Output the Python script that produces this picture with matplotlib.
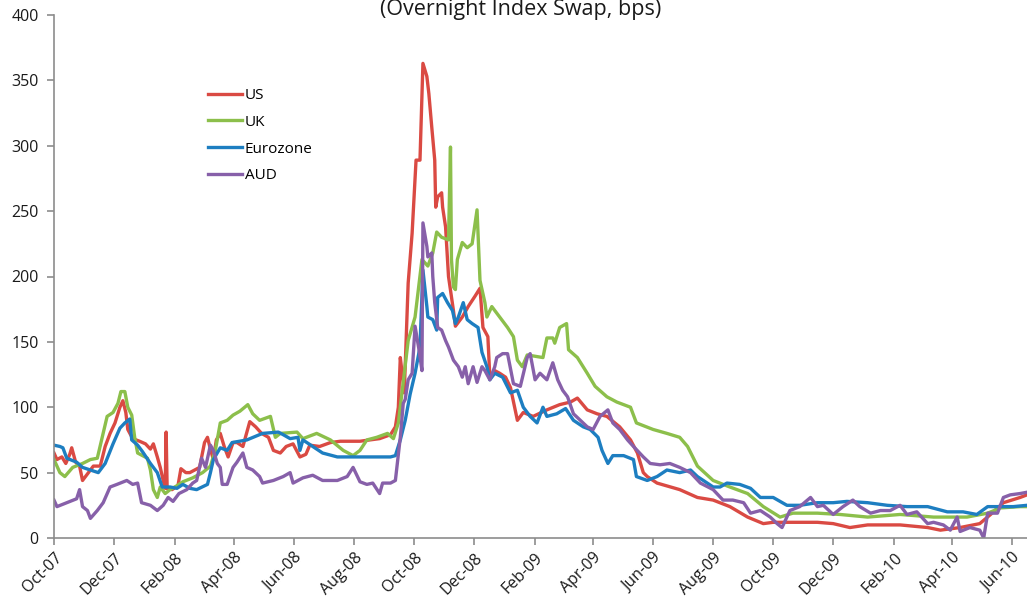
import matplotlib
matplotlib.use("Agg")
import matplotlib.pyplot as plt
import matplotlib.dates as mdates
import pandas as pd

plt.rcParams['font.family'] = ['Open Sans', 'DejaVu Sans']

title = "(Overnight Index Swap, bps)"
series_names = ["US", "UK", "Eurozone", "AUD"]
colors = ["#DA4A43", "#8CBF4B", "#1D7EC1", "#8760A9"]

us_dates = ["2007-10-01","2007-10-04","2007-10-09","2007-10-13","2007-10-17","2007-10-19","2007-10-23","2007-10-27","2007-10-30",
            "2007-11-05","2007-11-10","2007-11-17","2007-11-22","2007-11-27","2007-12-02","2007-12-07","2007-12-10","2007-12-13",
            "2007-12-15","2007-12-20","2007-12-27","2008-01-02","2008-01-07","2008-01-10","2008-01-14","2008-01-17","2008-01-20",
            "2008-01-22","2008-01-23","2008-01-24","2008-01-29","2008-02-04","2008-02-07","2008-02-12","2008-02-16","2008-02-21",
            "2008-02-26","2008-03-02","2008-03-05","2008-03-08","2008-03-11","2008-03-14","2008-03-18","2008-03-22","2008-03-26",
            "2008-03-31","2008-04-04","2008-04-10","2008-04-17","2008-04-23","2008-04-29","2008-05-06","2008-05-11","2008-05-18",
            "2008-05-24","2008-05-31","2008-06-07","2008-06-13","2008-06-17","2008-06-27","2008-07-08","2008-07-18","2008-08-07",
            "2008-08-27","2008-09-07","2008-09-12","2008-09-15","2008-09-17","2008-09-19","2008-09-21","2008-09-25","2008-09-29",
            "2008-10-03","2008-10-07","2008-10-10","2008-10-14","2008-10-16","2008-10-19","2008-10-22","2008-10-23","2008-10-25",
            "2008-10-29","2008-10-30","2008-11-02","2008-11-05","2008-11-10","2008-11-12","2008-11-19","2008-11-25","2008-12-02",
            "2008-12-07","2008-12-10","2008-12-15","2008-12-17","2008-12-22","2008-12-27","2009-01-02","2009-01-07","2009-01-14",
            "2009-01-20","2009-01-30","2009-02-13","2009-02-26","2009-03-09","2009-03-16","2009-03-26","2009-04-05","2009-04-15",
            "2009-04-28","2009-05-09","2009-05-16","2009-05-22","2009-05-26","2009-06-05","2009-06-28","2009-07-16","2009-08-01",
            "2009-08-18","2009-09-05","2009-09-21","2009-10-01","2009-10-15","2009-11-15","2009-12-01","2009-12-18","2010-01-05",
            "2010-02-07","2010-03-07","2010-03-20","2010-04-09","2010-04-29","2010-05-10","2010-05-23","2010-06-09","2010-06-16"]
us_values = [65, 60, 62, 57, 64, 69, 58, 55, 44,
             50, 55, 55, 70, 80, 88, 100, 105, 96,
             83, 76, 74, 72, 68, 72, 62, 54, 44,
             38, 81, 38, 37, 40, 53, 50, 50, 52,
             54, 73, 77, 68, 60, 75, 80, 70, 62,
             73, 73, 70, 89, 85, 80, 77, 67, 65,
             70, 72, 62, 64, 71, 70, 73, 74, 74,
             76, 79, 85, 100, 138, 125, 111, 195, 233,
             289, 289, 363, 353, 340, 314, 289, 253, 261,
             264, 253, 238, 200, 174, 162, 169, 177, 185,
             191, 161, 154, 123, 128, 126, 123, 115, 90,
             96, 93, 98, 102, 104, 107, 98, 95, 93,
             85, 75, 65, 50, 47, 42, 37, 31, 29,
             24, 16, 11, 12, 12, 12, 11, 8, 10,
             10, 8, 6, 8, 11, 18, 27, 31, 33]

uk_dates = ["2007-10-01","2007-10-07","2007-10-12","2007-10-20","2007-10-30","2007-11-07","2007-11-14","2007-11-19","2007-11-24",
            "2007-11-30","2007-12-05","2007-12-08","2007-12-12","2007-12-15","2007-12-19","2007-12-22","2007-12-25","2008-01-04",
            "2008-01-07","2008-01-10","2008-01-14","2008-01-17","2008-01-22","2008-01-27","2008-02-03","2008-02-09","2008-02-19",
            "2008-02-29","2008-03-08","2008-03-13","2008-03-18","2008-03-25","2008-03-31","2008-04-07","2008-04-15","2008-04-20",
            "2008-04-27","2008-05-08","2008-05-13","2008-05-18","2008-06-04","2008-06-10","2008-06-24","2008-07-08","2008-07-21",
            "2008-07-31","2008-08-07","2008-08-14","2008-08-24","2008-09-04","2008-09-10","2008-09-15","2008-09-19","2008-09-25",
            "2008-10-02","2008-10-09","2008-10-15","2008-10-20","2008-10-24","2008-10-29","2008-11-05","2008-11-07","2008-11-08",
            "2008-11-10","2008-11-12","2008-11-14","2008-11-19","2008-11-24","2008-11-29","2008-12-04","2008-12-07","2008-12-12",
            "2008-12-14","2008-12-19","2008-12-24","2009-01-04","2009-01-10","2009-01-14","2009-01-19","2009-01-24","2009-02-09",
            "2009-02-13","2009-02-19","2009-02-21","2009-02-26","2009-03-05","2009-03-07","2009-03-16","2009-03-26","2009-04-03",
            "2009-04-15","2009-04-25","2009-05-09","2009-05-15","2009-06-01","2009-06-15","2009-06-28","2009-07-06","2009-07-16",
            "2009-08-01","2009-08-18","2009-09-05","2009-09-21","2009-10-08","2009-10-21","2009-11-15","2009-12-08","2010-01-05",
            "2010-02-07","2010-03-13","2010-04-16","2010-05-07","2010-05-20","2010-06-09","2010-06-16"]
uk_values = [60, 50, 47, 54, 57, 60, 61, 77, 93,
             96, 103, 112, 112, 100, 94, 77, 65, 61,
             52, 37, 31, 39, 34, 37, 40, 43, 46,
             50, 55, 67, 88, 90, 94, 97, 102, 95,
             90, 93, 77, 80, 81, 76, 80, 75, 67,
             63, 67, 75, 77, 80, 76, 88, 113, 151,
             169, 213, 208, 218, 234, 230, 228, 299, 213,
             192, 190, 213, 226, 222, 225, 251, 197, 180,
             169, 177, 172, 161, 154, 136, 131, 140, 138,
             153, 153, 149, 161, 164, 144, 138, 126, 116,
             108, 104, 100, 88, 83, 80, 77, 70, 55,
             44, 39, 34, 24, 16, 19, 19, 18, 16,
             18, 16, 16, 19, 23, 24, 24]

ez_dates = ["2007-10-01","2007-10-07","2007-10-10","2007-10-14","2007-10-24","2007-10-30","2007-11-07","2007-11-15","2007-11-22",
            "2007-11-30","2007-12-07","2007-12-12","2007-12-17","2007-12-19","2007-12-25","2007-12-30","2008-01-07","2008-01-14",
            "2008-01-19","2008-01-27","2008-02-03","2008-02-09","2008-02-16","2008-02-23","2008-03-05","2008-03-08","2008-03-11",
            "2008-03-18","2008-03-25","2008-03-30","2008-04-14","2008-04-30","2008-05-16","2008-05-21","2008-05-28","2008-06-05",
            "2008-06-07","2008-06-10","2008-06-20","2008-06-30","2008-07-15","2008-08-10","2008-09-07","2008-09-12","2008-09-17",
            "2008-09-22","2008-09-27","2008-10-02","2008-10-07","2008-10-10","2008-10-14","2008-10-15","2008-10-20","2008-10-24",
            "2008-10-25","2008-10-30","2008-11-04","2008-11-09","2008-11-12","2008-11-15","2008-11-20","2008-11-24","2008-11-29",
            "2008-12-05","2008-12-09","2008-12-14","2008-12-17","2008-12-22","2008-12-30","2009-01-07","2009-01-14","2009-01-20",
            "2009-01-27","2009-02-03","2009-02-09","2009-02-13","2009-02-23","2009-03-04","2009-03-12","2009-03-22","2009-03-29",
            "2009-04-06","2009-04-10","2009-04-16","2009-04-21","2009-05-02","2009-05-12","2009-05-15","2009-05-26","2009-06-05",
            "2009-06-15","2009-06-28","2009-07-09","2009-07-16","2009-07-26","2009-08-01","2009-08-08","2009-08-15","2009-08-28",
            "2009-09-08","2009-09-18","2009-10-01","2009-10-15","2009-10-28","2009-11-15","2009-12-01","2009-12-15","2010-01-05",
            "2010-01-25","2010-02-14","2010-03-07","2010-03-27","2010-04-12","2010-04-26","2010-05-07","2010-05-20","2010-06-02",
            "2010-06-16"]
ez_values = [71, 70, 69, 61, 58, 54, 52, 50, 57,
             72, 84, 88, 91, 75, 71, 66, 57, 50,
             39, 39, 38, 41, 38, 37, 41, 50, 60,
             69, 67, 73, 75, 80, 81, 79, 76, 77,
             67, 75, 70, 65, 62, 62, 62, 63, 75,
             90, 110, 126, 146, 205, 177, 169, 167, 159,
             184, 187, 180, 174, 164, 169, 180, 167, 164,
             161, 142, 131, 121, 126, 123, 111, 113, 100,
             93, 88, 100, 93, 95, 99, 90, 85, 83,
             77, 67, 57, 63, 63, 60, 47, 44, 47,
             52, 50, 52, 47, 42, 39, 39, 42, 41,
             38, 31, 31, 25, 25, 27, 27, 28, 27,
             25, 24, 24, 20, 20, 18, 24, 24, 24,
             25]

aud_dates = ["2007-10-01","2007-10-04","2007-10-14","2007-10-24","2007-10-27","2007-10-30","2007-11-04","2007-11-07","2007-11-14",
             "2007-11-20","2007-11-27","2007-12-04","2007-12-14","2007-12-20","2007-12-25","2007-12-29","2008-01-07","2008-01-14",
             "2008-01-20","2008-01-25","2008-01-30","2008-02-05","2008-02-13","2008-02-19","2008-02-23","2008-02-28","2008-03-03",
             "2008-03-08","2008-03-11","2008-03-15","2008-03-18","2008-03-20","2008-03-25","2008-03-31","2008-04-04","2008-04-10",
             "2008-04-14","2008-04-20","2008-04-27","2008-04-30","2008-05-11","2008-05-21","2008-05-28","2008-05-31","2008-06-10",
             "2008-06-20","2008-06-30","2008-07-15","2008-07-25","2008-07-31","2008-08-07","2008-08-14","2008-08-20","2008-08-27",
             "2008-08-30","2008-09-07","2008-09-12","2008-09-14","2008-09-17","2008-09-20","2008-09-22","2008-09-25","2008-09-29",
             "2008-10-02","2008-10-06","2008-10-09","2008-10-10","2008-10-14","2008-10-15","2008-10-19","2008-10-20","2008-10-22",
             "2008-10-25","2008-10-29","2008-11-02","2008-11-05","2008-11-10","2008-11-15","2008-11-19","2008-11-22","2008-11-25",
             "2008-11-30","2008-12-04","2008-12-09","2008-12-12","2008-12-17","2008-12-22","2008-12-24","2008-12-30","2009-01-04",
             "2009-01-10","2009-01-17","2009-01-24","2009-01-27","2009-02-01","2009-02-06","2009-02-13","2009-02-19","2009-02-24",
             "2009-03-01","2009-03-06","2009-03-12","2009-03-19","2009-03-26","2009-04-01","2009-04-08","2009-04-16","2009-04-21",
             "2009-04-28","2009-05-06","2009-05-12","2009-05-22","2009-05-29","2009-06-08","2009-06-18","2009-06-28","2009-07-09",
             "2009-07-19","2009-08-01","2009-08-11","2009-08-21","2009-09-01","2009-09-08","2009-09-18","2009-09-28","2009-10-05",
             "2009-10-10","2009-10-18","2009-10-28","2009-11-08","2009-11-15","2009-11-21","2009-12-01","2009-12-11","2009-12-21",
             "2009-12-28","2010-01-08","2010-01-18","2010-01-28","2010-02-07","2010-02-14","2010-02-24","2010-03-07","2010-03-13",
             "2010-03-23","2010-03-30","2010-04-06","2010-04-09","2010-04-19","2010-04-29","2010-05-03","2010-05-07","2010-05-17",
             "2010-05-23","2010-05-30","2010-06-09","2010-06-16"]
aud_values = [29, 24, 27, 30, 37, 24, 21, 15, 21,
              27, 39, 41, 44, 41, 42, 27, 25, 21,
              25, 31, 28, 34, 37, 42, 44, 61, 54,
              71, 67, 57, 54, 41, 41, 54, 58, 65,
              54, 52, 47, 42, 44, 47, 50, 42, 46,
              48, 44, 44, 47, 54, 43, 41, 42, 34,
              42, 42, 44, 57, 77, 103, 106, 121, 126,
              162, 144, 128, 241, 223, 215, 218, 200, 180,
              161, 159, 151, 146, 136, 131, 123, 131, 118,
              131, 119, 131, 128, 121, 131, 138, 141, 141,
              118, 116, 138, 141, 121, 126, 121, 134, 121,
              113, 108, 95, 90, 85, 83, 93, 98, 88,
              83, 75, 70, 62, 57, 56, 57, 54, 50,
              42, 37, 29, 29, 27, 19, 21, 16, 11,
              8, 21, 24, 31, 24, 25, 18, 24, 29,
              24, 19, 21, 21, 25, 18, 20, 11, 12,
              10, 6, 16, 5, 8, 6, 0, 19, 19,
              31, 33, 34, 35]

all_dates = [us_dates, uk_dates, ez_dates, aud_dates]
all_values = [us_values, uk_values, ez_values, aud_values]

x_start = "2007-10-01"
x_end = "2010-06-16"

W, H = 1027, 611
fig = plt.figure(figsize=(W / 100, H / 100), dpi=100)
ax = fig.add_axes([54 / W, 1 - 538 / H, (W - 54) / W, (538 - 15) / H])

for name, c, d, v in zip(series_names, colors, all_dates, all_values):
    ax.plot(pd.to_datetime(d), v, color=c, lw=2.4, label=name, solid_joinstyle='round')

ax.set_ylim(0, 400)
ax.set_yticks(range(0, 401, 50))
ax.set_xlim(pd.Timestamp(x_start), pd.Timestamp(x_end))
ax.xaxis.set_major_locator(mdates.MonthLocator(bymonth=[2, 4, 6, 8, 10, 12]))
ax.xaxis.set_major_formatter(mdates.DateFormatter('%b-%y'))

for s in ['top', 'right']:
    ax.spines[s].set_visible(False)
for s in ['left', 'bottom']:
    ax.spines[s].set_color('#8C8C8C')
    ax.spines[s].set_linewidth(1.2)
ax.tick_params(axis='both', direction='out', length=5, width=1.2, color='#8C8C8C',
               labelsize=11.5, labelcolor='#1A1A1A')
ax.tick_params(axis='y', pad=6)
for lbl in ax.get_xticklabels():
    lbl.set_rotation(45)
    lbl.set_ha('right')
    lbl.set_va('top')
    lbl.set_rotation_mode('anchor')

leg = ax.legend(loc='upper left', bbox_to_anchor=(0.152, 0.872), frameon=False,
                fontsize=11, handlelength=2.2, handletextpad=0.2, labelspacing=0.77,
                borderaxespad=0)

fig.text(0.507, 1 - 15 / H, title, ha='center', va='baseline', fontsize=15.5, color='#1A1A1A')

fig.savefig("out.png", dpi=100)
